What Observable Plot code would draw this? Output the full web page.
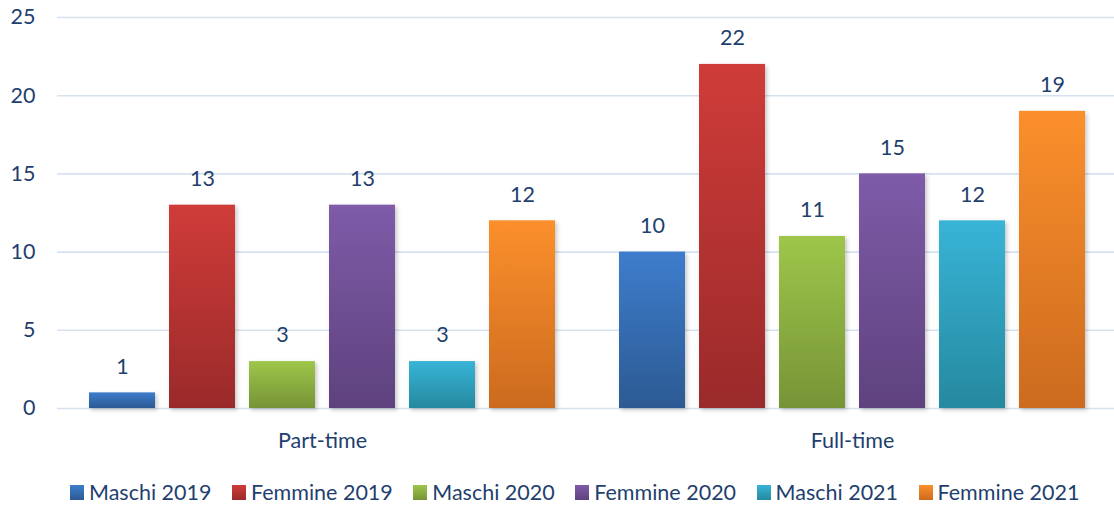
<!DOCTYPE html>
<html>
<head>
<meta charset="utf-8">
<script src="https://cdn.jsdelivr.net/npm/d3@7"></script>
<script src="https://cdn.jsdelivr.net/npm/@observablehq/plot@0.6"></script>
<style>
  html, body { margin: 0; padding: 0; background: #fff; }
  body { width: 1114px; height: 506px; overflow: hidden; font-family: Lato, "Open Sans", sans-serif; }
  #chart svg { overflow: hidden; }
  .bars rect { filter: drop-shadow(2px 2px 2px rgba(0,0,0,0.22)); }
  #legend { display: flex; justify-content: flex-start; align-items: center; padding-left: 70px; margin-top: 17px; color: #1f3f6e; font-size: 21.5px; white-space: nowrap; }
  #legend .item { display: flex; align-items: center; margin-right: 20.5px; }
  #legend .sw { width: 14px; height: 15px; margin-right: 5px; }
</style>
</head>
<body>
<div id="chart"></div>
<div id="legend"></div>
<script>
const groups = ["Part-time", "Full-time"];
const series = ["Maschi 2019", "Femmine 2019", "Maschi 2020", "Femmine 2020", "Maschi 2021", "Femmine 2021"];
const partTime = [1, 13, 3, 13, 3, 12];
const fullTime = [10, 22, 11, 15, 12, 19];
const yTicks = [0, 5, 10, 15, 20, 25];
const colorsTop = ["#3e7dcc", "#cf3c39", "#9ec64a", "#7f5ba8", "#38b4d7", "#fb8f2b"];
const colorsBottom = ["#2c5a93", "#9a2a2a", "#769437", "#5e427e", "#25899f", "#cc6b1f"];
const textColor = "#1f3f6e";

const data = [];
groups.forEach((g, gi) => {
  const vals = gi === 0 ? partTime : fullTime;
  series.forEach((s, si) => data.push({group: g, series: s, idx: si, value: vals[si]}));
});

const defs = () => {
  const d = d3.create("svg:defs");
  series.forEach((s, i) => {
    const lg = d.append("linearGradient").attr("id", "grad" + i)
      .attr("x1", 0).attr("y1", 0).attr("x2", 0).attr("y2", 1);
    lg.append("stop").attr("offset", "0%").attr("stop-color", colorsTop[i]);
    lg.append("stop").attr("offset", "100%").attr("stop-color", colorsBottom[i]);
  });
  return d.node();
};

const chart = Plot.plot({
  width: 1114,
  height: 462,
  marginTop: 17,
  marginBottom: 54,
  marginLeft: 57,
  marginRight: -3,
  style: {fontFamily: "Lato, 'Open Sans', sans-serif", fontSize: "21.5px", color: textColor, background: "#fff"},
  fx: {domain: groups, padding: 0, label: null, tickSize: 0, tickPadding: 24},
  x: {domain: series, paddingInner: 0.175, paddingOuter: 0.4, axis: null},
  y: {domain: [0, 25], ticks: yTicks, tickSize: 0, tickPadding: 22, label: null, tickFormat: d => String(d)},
  color: {type: "identity"},
  marks: [
    defs,
    Plot.ruleY(yTicks, {stroke: "#d6e2f0", strokeWidth: 1.6}),
    Plot.barY(data, {fx: "group", x: "series", y: "value", fill: d => "url(#grad" + d.idx + ")", className: "bars"}),
    Plot.text(data, {fx: "group", x: "series", y: "value", text: d => String(d.value), dy: -26, fill: textColor, fontSize: 21.5})
  ]
});
document.getElementById("chart").appendChild(chart);

const legend = document.getElementById("legend");
series.forEach((s, i) => {
  const item = document.createElement("div");
  item.className = "item";
  const sw = document.createElement("div");
  sw.className = "sw";
  sw.style.background = `linear-gradient(${colorsTop[i]}, ${colorsBottom[i]})`;
  const label = document.createElement("span");
  label.textContent = s;
  item.appendChild(sw);
  item.appendChild(label);
  legend.appendChild(item);
});
</script>
</body>
</html>
